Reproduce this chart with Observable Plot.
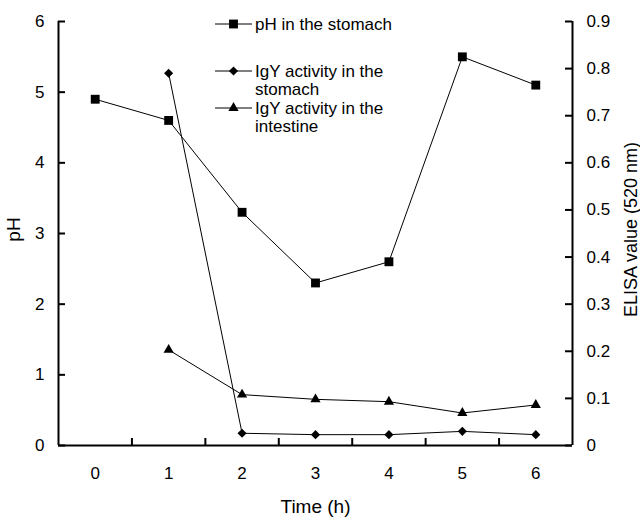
<!DOCTYPE html>
<html><head><meta charset="utf-8">
<script src="https://cdn.jsdelivr.net/npm/d3@7"></script>
<script src="https://cdn.jsdelivr.net/npm/@observablehq/plot@0.6"></script>
<style>
body{margin:0;background:#fff;}
#chart{width:640px;height:520px;}
</style></head><body><div id="chart"></div>
<script>
// ---- data ----
const times = [0, 1, 2, 3, 4, 5, 6];
const phStomach = [4.9, 4.6, 3.3, 2.3, 2.6, 5.5, 5.1];
const igyStomach = [null, 0.79, 0.026, 0.023, 0.023, 0.030, 0.023];
const igyIntestine = [null, 0.203, 0.108, 0.098, 0.093, 0.069, 0.086];
const phTicks = [0, 1, 2, 3, 4, 5, 6];
const elisaTicks = [0, 0.1, 0.2, 0.3, 0.4, 0.5, 0.6, 0.7, 0.8, 0.9];
const seriesNames = ["pH in the stomach", "IgY activity in the stomach", "IgY activity in the intestine"];
const legendLines = [["pH in the stomach"], ["IgY activity in the", "stomach"], ["IgY activity in the", "intestine"]];
const xTitle = "Time (h)";
const yTitleLeft = "pH";
const yTitleRight = "ELISA value (520 nm)";

// ---- derived ----
const elisaMax = 0.9, phMax = 6;
const k = phMax / elisaMax;
const boundaries = times.slice(0, -1).map(t => t + 0.5);
const rows = (vals, f) => times.map((t, i) => ({t, v: vals[i]})).filter(d => d.v != null).map(d => ({t: d.t, y: f(d.v)}));
const ph = rows(phStomach, v => v);
const igS = rows(igyStomach, v => v * k);
const igI = rows(igyIntestine, v => v * k);

// ---- layout ----
const W = 640, H = 520, mL = 58, mR = 68, mT = 21, mB = 75;
const fw = W - mL - mR, fh = H - mT - mB, tick = 7;
const font = "'Liberation Sans', Arial, sans-serif";

const plot = Plot.plot({
  width: W, height: H,
  marginLeft: mL, marginRight: mR, marginTop: mT, marginBottom: mB,
  style: {fontFamily: font, fontSize: "17px", color: "black", background: "white"},
  x: {type: "linear", domain: [times[0] - 0.5, times[times.length - 1] + 0.5]},
  y: {domain: [0, phMax]},
  marks: [
    // axis lines
    Plot.ruleX([times[0] - 0.5, times[times.length - 1] + 0.5], {stroke: "black", strokeWidth: 2}),
    Plot.ruleY([0], {stroke: "black", strokeWidth: 2}),
    // inward ticks
    Plot.ruleY(phTicks, {y: d => d, insetRight: fw - tick, stroke: "black", strokeWidth: 2}),
    Plot.ruleY(elisaTicks, {y: d => d * k, insetLeft: fw - tick, stroke: "black", strokeWidth: 2}),
    Plot.ruleX(boundaries, {x: d => d, insetTop: fh - tick, stroke: "black", strokeWidth: 2}),
    // tick labels
    Plot.axisY(phTicks, {anchor: "left", tickSize: 0, tickPadding: 14, label: null, tickFormat: d => String(d)}),
    Plot.axisY(elisaTicks.map(v => v * k), {anchor: "right", tickSize: 0, tickPadding: 14, label: null, tickFormat: d => String(+(d / k).toFixed(1))}),
    Plot.axisX(times, {anchor: "bottom", tickSize: 0, tickPadding: 21, label: null, tickFormat: d => String(d)}),
    // titles
    Plot.text([yTitleLeft], {frameAnchor: "left", dx: -45, dy: -4, rotate: -90, textAnchor: "middle", lineAnchor: "middle", text: d => d, fontSize: 19, fill: "black"}),
    Plot.text([yTitleRight], {frameAnchor: "right", dx: 59, dy: -4, rotate: -90, textAnchor: "middle", lineAnchor: "middle", text: d => d, fontSize: 18, fill: "black"}),
    Plot.text([xTitle], {frameAnchor: "bottom", dy: 67, text: d => d, fontSize: 19, fill: "black"}),
    // series
    Plot.line(ph, {x: "t", y: "y", stroke: "black", strokeWidth: 1}),
    Plot.line(igS, {x: "t", y: "y", stroke: "black", strokeWidth: 1}),
    Plot.line(igI, {x: "t", y: "y", stroke: "black", strokeWidth: 1}),
    Plot.dot(ph, {x: "t", y: "y", symbol: "square", r: 5, fill: "black", stroke: "none"}),
    Plot.dot(igS, {x: "t", y: "y", symbol: "diamond2", r: 4.1, fill: "black", stroke: "none"}),
    Plot.dot(igI, {x: "t", y: "y", symbol: "triangle", r: 3.8, fill: "black", stroke: "none"})
  ]
});
document.getElementById("chart").appendChild(plot);

// ---- legend (inside plot area) ----
const svg = d3.select(plot.tagName.toLowerCase() === "svg" ? plot : plot.querySelector("svg"));
const symbols = [d3.symbolSquare, d3.symbolDiamond2, d3.symbolTriangle];
const sizes = [Math.PI * 25, Math.PI * 4.1 * 4.1, Math.PI * 3.8 * 3.8];
const rowY = [24, 71, 108];
const lg = svg.append("g").attr("font-family", font).attr("font-size", 17).attr("text-anchor", "start");
seriesNames.forEach((name, i) => {
  const g = lg.append("g").attr("transform", `translate(215,${rowY[i]})`).attr("aria-label", name);
  g.append("line").attr("x1", 0).attr("x2", 37).attr("stroke", "black").attr("stroke-width", 1);
  g.append("path").attr("d", d3.symbol(symbols[i], sizes[i])()).attr("transform", "translate(18.5,0)").attr("fill", "black");
  legendLines[i].forEach((ln, j) => {
    g.append("text").attr("x", 40).attr("y", j * 18.5).attr("dy", "0.35em").attr("fill", "black").attr("text-anchor", "start").text(ln);
  });
});
</script></body></html>
